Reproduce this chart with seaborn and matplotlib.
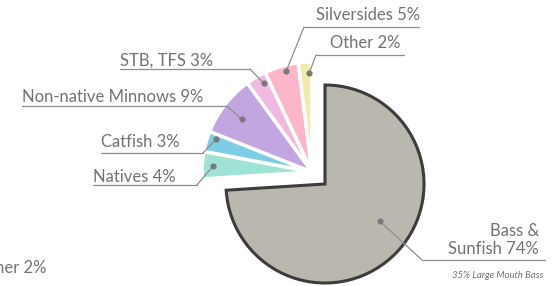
import numpy as np
import matplotlib.pyplot as plt
import seaborn as sns

# fish groups, clockwise from 12 o'clock
GROUPS = ["Bass &\nSunfish", "Natives", "Catfish", "Non-native Minnows", "STB, TFS", "Silversides", "Other"]
SHARES = [74, 4, 3, 9, 3, 5, 2]
COLORS = ["#bab7ae", "#9fe3d4", "#7ecde6", "#c2a6e2", "#efb9e2", "#fdb5c9", "#f1eca9"]
NOTE = "35% Large Mouth Bass"
CUT_LABEL = "Other 2%"

W, H = 552, 286
TEXT_COLOR = "#727272"
LINE_COLOR = "#8e8e8e"
DOT_COLOR = "#7a7a7a"
FS = 12

# pie geometry in pixels (y measured from top)
BIG_CENTER, BIG_R = (325, 184), 99
SMALL_CENTER, SMALL_R = (312, 172), 110

# label layout in pixels (y from top): text pos, underline y, underline x span, which end meets the leader,
# dot distance as fraction of radius, angle nudge of the dot
LAYOUT = {
    "Natives": dict(tx=93, ty=177, uy=185, ux=(93, 197), end=1, frac=0.9, nudge=0),
    "Catfish": dict(tx=101, ty=142, uy=153, ux=(101, 203), end=1, frac=0.92, nudge=-3),
    "Non-native Minnows": dict(tx=22, ty=97, uy=106, ux=(22, 227), end=1, frac=0.8, nudge=1),
    "STB, TFS": dict(tx=120, ty=61, uy=69, ux=(120, 250), end=1, frac=0.92, nudge=-2),
    "Silversides": dict(tx=316, ty=15, uy=27, ux=(304, 419), end=0, frac=0.95, nudge=-2),
    "Other": dict(tx=330, ty=43, uy=55, ux=(316, 404), end=0, frac=0.9, nudge=-2),
}


def Y(y):
    # flip a top-down pixel y into axis coords
    return H - y


sns.set_theme(style="white")
plt.rcParams["font.family"] = ["Lato", "DejaVu Sans"]

fig = plt.figure(figsize=(W / 100, H / 100), dpi=100)
ax = fig.add_axes([0, 0, 1, 1])

# big slice: bass & sunfish, with dark outline
big, _ = ax.pie([SHARES[0], sum(SHARES[1:])], startangle=90, counterclock=False,
                colors=[COLORS[0], "none"], radius=BIG_R,
                center=(BIG_CENTER[0], Y(BIG_CENTER[1])),
                wedgeprops=dict(edgecolor="#3c3c3c", linewidth=2.2))
big[1].set_visible(False)

# small slices pulled out to the upper left, slightly larger radius
small, _ = ax.pie(SHARES, startangle=90, counterclock=False, colors=COLORS,
                  radius=SMALL_R, center=(SMALL_CENTER[0], Y(SMALL_CENTER[1])),
                  wedgeprops=dict(edgecolor="white", linewidth=2.5))
small[0].set_visible(False)

for name, share, wedge in zip(GROUPS[1:], SHARES[1:], small[1:]):
    lay = LAYOUT[name]
    mid = np.deg2rad((wedge.theta1 + wedge.theta2) / 2 + lay["nudge"])
    dx = SMALL_CENTER[0] + lay["frac"] * SMALL_R * np.cos(mid)
    dy = Y(SMALL_CENTER[1]) + lay["frac"] * SMALL_R * np.sin(mid)
    ex = lay["ux"][lay["end"]]
    ax.plot([lay["ux"][0], lay["ux"][1]], [Y(lay["uy"])] * 2, color=LINE_COLOR, lw=0.9)
    ax.plot([ex, dx], [Y(lay["uy"]), dy], color=LINE_COLOR, lw=0.9)
    ax.plot(dx, dy, "o", color=DOT_COLOR, ms=4.5, mec="none")
    ax.text(lay["tx"], Y(lay["ty"]), f"{name} {share}%", ha="left", va="center",
            fontsize=FS, color=TEXT_COLOR)

# bass & sunfish label on the lower right
bw = big[0]
mid = np.deg2rad((bw.theta1 + bw.theta2) / 2 + 9)
bx = BIG_CENTER[0] + 0.67 * BIG_R * np.cos(mid)
by = Y(BIG_CENTER[1]) + 0.67 * BIG_R * np.sin(mid)
ax.plot([422, 545], [Y(260)] * 2, color=LINE_COLOR, lw=0.9)
ax.plot([422, bx], [Y(260), by], color=LINE_COLOR, lw=0.9)
ax.plot(bx, by, "o", color=DOT_COLOR, ms=4.5, mec="none")
ax.text(539, Y(240), f"{GROUPS[0]} {SHARES[0]}%", ha="right", va="center",
        fontsize=FS, color=TEXT_COLOR, linespacing=1.1)
ax.text(543, Y(275), NOTE, ha="right", va="center", fontsize=6.8,
        style="italic", color=TEXT_COLOR)

# stray label cut by the left edge, as in the source image
ax.text(-24, Y(268), CUT_LABEL, ha="left", va="center", fontsize=FS, color=TEXT_COLOR)

ax.set_xlim(0, W)
ax.set_ylim(0, H)
ax.set_aspect("auto")
ax.axis("off")

fig.savefig("out.png", dpi=100)
